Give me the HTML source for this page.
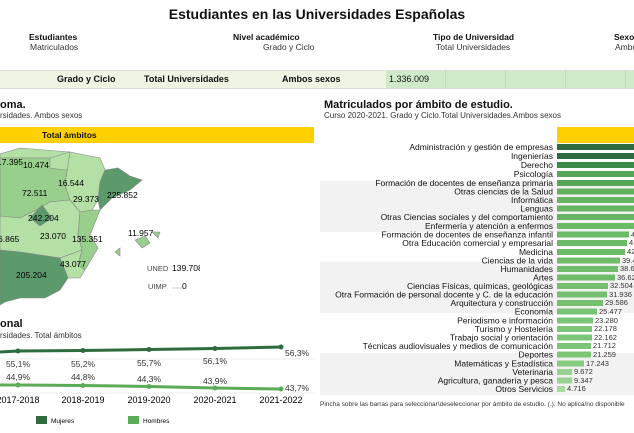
<!DOCTYPE html>
<html><head><meta charset="utf-8"><style>
body{margin:0;width:634px;height:433px;overflow:hidden;background:#fff;font-family:"Liberation Sans",Arial,sans-serif;position:relative;color:#111}
.a{position:absolute;white-space:nowrap}
.b{font-weight:bold}
</style></head><body>
<div class="a b" style="left:0;width:634px;text-align:center;top:6px;font-size:14px">Estudiantes en las Universidades Españolas</div>
<div class="a b" style="left:29px;top:32px;font-size:8.5px">Estudiantes</div>
<div class="a" style="left:30px;top:42px;font-size:8.5px;color:#333">Matriculados</div>
<div class="a b" style="left:233px;top:32px;font-size:8.5px">Nivel académico</div>
<div class="a" style="left:263px;top:42px;font-size:8.5px;color:#333">Grado y Ciclo</div>
<div class="a b" style="left:433px;top:32px;font-size:8.5px">Tipo de Universidad</div>
<div class="a" style="left:436px;top:42px;font-size:8.5px;color:#333">Total Universidades</div>
<div class="a b" style="left:614px;top:32px;font-size:8.5px">Sexo</div>
<div class="a" style="left:615px;top:42px;font-size:8.5px;color:#333">Ambos sexos</div>
<div class="a" style="left:0;top:70px;width:386px;height:17px;background:#eef3e2;border-top:1px solid #ddd;border-bottom:1px solid #ddd"></div>
<div class="a" style="left:386px;top:70px;width:248px;height:17px;background:#cfeac8;border-top:1px solid #ddd;border-bottom:1px solid #ddd"></div>
<div class="a" style="left:445px;top:70px;width:1px;height:18px;background:#bfdcb8"></div>
<div class="a" style="left:505px;top:70px;width:1px;height:18px;background:#bfdcb8"></div>
<div class="a" style="left:565px;top:70px;width:1px;height:18px;background:#bfdcb8"></div>
<div class="a" style="left:625px;top:70px;width:1px;height:18px;background:#bfdcb8"></div>
<div class="a b" style="left:57px;top:74px;font-size:9px">Grado y Ciclo</div>
<div class="a b" style="left:144px;top:74px;font-size:9px">Total Universidades</div>
<div class="a b" style="left:282px;top:74px;font-size:9px">Ambos sexos</div>
<div class="a" style="left:389px;top:74px;font-size:9px">1.336.009</div>

<div class="a b" style="left:0;top:99px;font-size:11px">oma.</div>
<div class="a" style="left:0;top:111px;font-size:8px;color:#333">rsidades. Ambos sexos</div>
<div class="a" style="left:0;top:127px;width:310px;height:16px;background:#ffd000"></div>
<div class="a b" style="left:42px;top:130px;font-size:8.5px">Total ámbitos</div>

<svg class="a" style="left:0;top:140px" width="200" height="170" font-family="Liberation Sans,Arial,sans-serif" font-size="8.5">
<g stroke="#888" stroke-width="0.6">
<polygon points="0,14 20,8 45,10 70,12 70,25 50,18 0,18" fill="#b4e0a6"/>
<polygon points="0,18 50,18 68,25 65,45 70,60 50,62 40,68 20,78 0,76" fill="#98cf8c"/>
<polygon points="50,18 70,12 72,28 65,30 50,28" fill="#b4e0a6"/>
<polygon points="70,12 100,18 105,30 100,42 98,60 92,70 80,72 70,60 65,45 68,25" fill="#b4e0a6"/>
<polygon points="105,30 118,28 130,36 142,40 130,50 112,58 100,70 98,60 100,42" fill="#5c9a6c"/>
<polygon points="20,78 40,68 50,62 70,60 80,72 78,95 82,110 60,118 20,112 0,110 0,76" fill="#b4e0a6"/>
<polygon points="30,78 42,65 52,78 40,86" fill="#5c9a6c"/>
<polygon points="80,72 92,70 100,70 90,95 98,108 85,130 78,125 82,110 78,95" fill="#98cf8c"/>
<polygon points="60,118 82,110 78,125 85,130 80,138 68,138" fill="#b4e0a6"/>
<polygon points="0,110 20,112 60,118 68,138 60,150 45,158 20,158 5,162 0,165" fill="#5c9a6c"/>
<polygon points="135,100 145,96 150,103 142,108" fill="#98cf8c"/>
<polygon points="152,92 160,92 158,98" fill="#98cf8c"/>
<polygon points="115,112 120,108 120,116" fill="#98cf8c"/>
</g>
<text x="-3" y="25">17.395</text><text x="23" y="28">10.474</text><text x="58" y="46">16.544</text>
<text x="22" y="56">72.511</text><text x="73" y="62">29.373</text><text x="107" y="58">225.852</text>
<text x="28" y="81">242.204</text><text x="40" y="99">23.070</text><text x="72" y="102">135.351</text>
<text x="-2" y="102">6.865</text><text x="128" y="96">11.957</text>
<text x="60" y="127">43.077</text><text x="16" y="138">205.204</text>
<text x="147" y="131" fill="#444" font-size="7.5">UNED</text><text x="172" y="131">139.708</text>
<text x="148" y="149" fill="#444" font-size="7.5">UIMP</text><line x1="172" y1="148" x2="183" y2="148" stroke="#ccc"/><text x="182" y="149">0</text>
</svg>

<div class="a b" style="left:0;top:318px;font-size:11px">onal</div>
<div class="a" style="left:0;top:331px;font-size:8px;color:#333">rsidades. Total ámbitos</div>
<svg class="a" style="left:0;top:340px" width="320" height="93" font-family="Liberation Sans,Arial,sans-serif" font-size="8.5">
<line x1="0" y1="19" x2="315" y2="19" stroke="#eee"/>
<line x1="0" y1="53" x2="315" y2="53" stroke="#eee"/>
<polyline points="0,12 18,11 83,10.5 149,9.5 215,8.5 281,7" fill="none" stroke="#2e6b3e" stroke-width="3"/>
<polyline points="0,45 18,45 83,45.5 149,46.5 215,48 281,49" fill="none" stroke="#5cab57" stroke-width="3"/>
<g fill="#2e6b3e"><circle cx="18" cy="11" r="2.5"/><circle cx="83" cy="10.5" r="2.5"/><circle cx="149" cy="9.5" r="2.5"/><circle cx="215" cy="8.5" r="2.5"/><circle cx="281" cy="7" r="2.5"/></g>
<g fill="#5cab57"><circle cx="18" cy="45" r="2.5"/><circle cx="83" cy="45.5" r="2.5"/><circle cx="149" cy="46.5" r="2.5"/><circle cx="215" cy="48" r="2.5"/><circle cx="281" cy="49" r="2.5"/></g>
<g fill="#333" text-anchor="middle">
<text x="18" y="27">55,1%</text><text x="83" y="27">55,2%</text><text x="149" y="26">55,7%</text><text x="215" y="24">56,1%</text>
<text x="18" y="40">44,9%</text><text x="83" y="40">44,8%</text><text x="149" y="42">44,3%</text><text x="215" y="44">43,9%</text>
</g>
<text x="285" y="16" fill="#333">56,3%</text><text x="285" y="51" fill="#333">43,7%</text>
<g text-anchor="middle" font-size="9"><text x="18" y="63">2017-2018</text><text x="83" y="63">2018-2019</text><text x="149" y="63">2019-2020</text><text x="215" y="63">2020-2021</text><text x="281" y="63">2021-2022</text></g>
<rect x="36" y="76" width="11" height="8" fill="#2e6b3e"/><text x="51" y="83" font-size="6.5">Mujeres</text>
<rect x="128" y="76" width="11" height="8" fill="#5cab57"/><text x="143" y="83" font-size="6.5">Hombres</text>
</svg>

<div class="a b" style="left:324px;top:99px;font-size:11px">Matriculados por ámbito de estudio.</div>
<div class="a" style="left:324px;top:111px;font-size:8px;color:#333">Curso 2020-2021. Grado y Ciclo.Total Universidades.Ambos sexos</div>
<div class="a" style="left:300px;top:127px;width:14px;height:16px;background:#ffd000"></div>
<div class="a" style="left:557px;top:127px;width:77px;height:16px;background:#ffd000"></div>
<svg class="a" style="left:300px;top:140px" width="334" height="260" font-family="Liberation Sans,Arial,sans-serif">
<rect x="20" y="41" width="314" height="51" fill="#f2f2f2"/>
<rect x="20" y="122" width="314" height="51" fill="#f2f2f2"/>
<rect x="20" y="213" width="314" height="42" fill="#f2f2f2"/>
<g font-size="8.5" text-anchor="end" fill="#111">
<text x="253" y="10">Administración y gestión de empresas</text>
<text x="253" y="19">Ingenierías</text>
<text x="253" y="28">Derecho</text>
<text x="253" y="37">Psicología</text>
<text x="253" y="46">Formación de docentes de enseñanza primaria</text>
<text x="253" y="54.5">Otras ciencias de la Salud</text>
<text x="253" y="63">Informática</text>
<text x="253" y="71.5">Lenguas</text>
<text x="253" y="80">Otras Ciencias sociales y del comportamiento</text>
<text x="253" y="89">Enfermería y atención a enfermos</text>
<text x="253" y="97.5">Formación de docentes de enseñanza infantil</text>
<text x="253" y="106">Otra Educación comercial y empresarial</text>
<text x="253" y="115">Medicina</text>
<text x="253" y="123.5">Ciencias de la vida</text>
<text x="253" y="132">Humanidades</text>
<text x="253" y="140.5">Artes</text>
<text x="253" y="149">Ciencias Físicas, químicas, geológicas</text>
<text x="253" y="157.5">Otra Formación de personal docente y C. de la educación</text>
<text x="253" y="166">Arquitectura y construcción</text>
<text x="253" y="174.5">Economía</text>
<text x="253" y="183.5">Periodismo e información</text>
<text x="253" y="192">Turismo y Hostelería</text>
<text x="253" y="200.5">Trabajo social y orientación</text>
<text x="253" y="209">Técnicas audiovisuales y medios de comunicación</text>
<text x="253" y="217.5">Deportes</text>
<text x="253" y="226.5">Matemáticas y Estadística</text>
<text x="253" y="235">Veterinaria</text>
<text x="253" y="243.5">Agricultura, ganadería y pesca</text>
<text x="253" y="252">Otros Servicios</text>
</g>
<g>
<rect x="257" y="4" width="80" height="6" fill="#2e6b3e"/>
<rect x="257" y="13" width="80" height="6" fill="#2e6b3e"/>
<rect x="257" y="22" width="80" height="6" fill="#3a8a48"/>
<rect x="257" y="31" width="80" height="6" fill="#56a657"/>
<rect x="257" y="40" width="80" height="6" fill="#56a657"/>
<rect x="257" y="48.5" width="80" height="6" fill="#60b05e"/>
<rect x="257" y="57" width="80" height="6" fill="#66b562"/>
<rect x="257" y="65.5" width="80" height="6" fill="#66b562"/>
<rect x="257" y="74" width="80" height="6" fill="#66b562"/>
<rect x="257" y="83" width="80" height="6" fill="#6bba66"/>
<rect x="257" y="91.5" width="72" height="6" fill="#6bba66"/>
<rect x="257" y="100" width="70" height="6" fill="#6bba66"/>
<rect x="257" y="109" width="68" height="6" fill="#6bba66"/>
<rect x="257" y="117.5" width="63" height="6" fill="#6fbd6a"/>
<rect x="257" y="126" width="61" height="6" fill="#6fbd6a"/>
<rect x="257" y="134.5" width="58" height="6" fill="#6fbd6a"/>
<rect x="257" y="143" width="51" height="6" fill="#74c06f"/>
<rect x="257" y="151.5" width="50" height="6" fill="#74c06f"/>
<rect x="257" y="160" width="46" height="6" fill="#74c06f"/>
<rect x="257" y="168.5" width="40" height="6" fill="#78c373"/>
<rect x="257" y="177.5" width="36" height="6" fill="#7cc677"/>
<rect x="257" y="186" width="35" height="6" fill="#7cc677"/>
<rect x="257" y="194.5" width="35" height="6" fill="#7cc677"/>
<rect x="257" y="203" width="34" height="6" fill="#7cc677"/>
<rect x="257" y="211.5" width="34" height="6" fill="#7cc677"/>
<rect x="257" y="220.5" width="27" height="6" fill="#86cb80"/>
<rect x="257" y="229" width="15" height="6" fill="#96d390"/>
<rect x="257" y="237.5" width="15" height="6" fill="#96d390"/>
<rect x="257" y="246" width="8" height="6" fill="#a6daa0"/>
</g>
<g font-size="7.5" fill="#333">
<text x="331" y="97">4</text><text x="329" y="105">4</text><text x="327" y="114">42</text>
<text x="322" y="123">39.4</text><text x="320" y="131">38.6</text><text x="317" y="140">36.62</text>
<text x="310" y="148">32.504</text><text x="309" y="157">31.936</text><text x="305" y="165">29.586</text>
<text x="299" y="174">25.477</text><text x="295" y="183">23.280</text><text x="294" y="191">22.178</text>
<text x="294" y="200">22.162</text><text x="293" y="208">21.712</text><text x="293" y="217">21.259</text>
<text x="286" y="226">17.243</text><text x="274" y="234">9.672</text><text x="274" y="243">9.347</text>
<text x="267" y="251">4.716</text>
</g>
</svg>
<div class="a" style="left:320px;top:401px;font-size:6.5px;color:#333">Pincha sobre las barras para seleccionar\deseleccionar por ámbito de estudio. (.): No aplica/no disponible</div>
</body></html>
